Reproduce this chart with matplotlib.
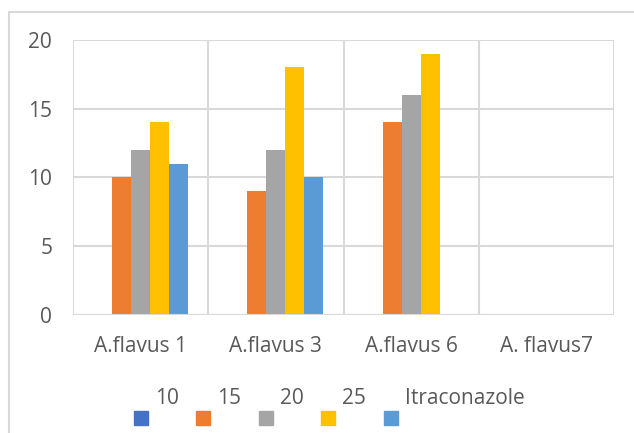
import numpy as np
import matplotlib.pyplot as plt
from matplotlib.patches import Rectangle

# data
categories = ['A.flavus 1', 'A.flavus 3', 'A.flavus 6', 'A. flavus7']
series = ['10', '15', '20', '25', 'Itraconazole']
values = [[0, 0, 0, 0],
          [10, 9, 14, 0],
          [12, 12, 16, 0],
          [14, 18, 19, 0],
          [11, 10, 0, 0]]
colors = ['#4472C4', '#ED7D31', '#A5A5A5', '#FFC000', '#5B9BD5']

plt.rcParams['font.family'] = ['Open Sans', 'DejaVu Sans']
txt = '#595959'
grid = '#D9D9D9'
fs = 15

fig = plt.figure(figsize=(6.34, 4.33), dpi=100)
ax = fig.add_axes([73/634, 1-315/433, 541/634, 275/433])

# chart frame (cut off at right/bottom like the reference)
fig.patches.append(Rectangle((9/634, -0.1), 1.2, 1-12/433+0.1, transform=fig.transFigure,
                             fill=False, edgecolor=grid, linewidth=1.5))

x = np.arange(len(categories))
w = 19/135
for i, (name, vals) in enumerate(zip(series, values)):
    ax.bar(x + (i-2)*w, vals, w, color=colors[i], label=name, zorder=3)

ax.set_xlim(-0.5, len(categories)-0.5)
ax.set_ylim(0, 20)
ax.set_yticks([0, 5, 10, 15, 20])
ax.set_xticks(x)
ax.set_xticklabels(categories)
for xv in np.arange(-0.5, len(categories), 1):
    ax.axvline(xv, color=grid, linewidth=1.5, zorder=1)
ax.yaxis.grid(True, color=grid, linewidth=1.5, zorder=1)
for s in ax.spines.values():
    s.set_visible(False)
ax.axhline(0, color=grid, linewidth=1.5, zorder=4)
ax.tick_params(length=0, labelsize=fs, colors=txt)
ax.tick_params(axis='x', pad=15)
ax.tick_params(axis='y', pad=15)

# legend laid out like the Excel export: label above-right of swatch
sw_x = [134, 196, 259, 321, 384]
for i, name in enumerate(series):
    fig.patches.append(Rectangle((sw_x[i]/634, 1-425/433), 14/634, 14/433,
                                 transform=fig.transFigure, color=colors[i]))
    fig.text((sw_x[i]+21)/634, 1-398/433, name, fontsize=fs, color=txt, va='center')

fig.savefig('out.png', dpi=100)
